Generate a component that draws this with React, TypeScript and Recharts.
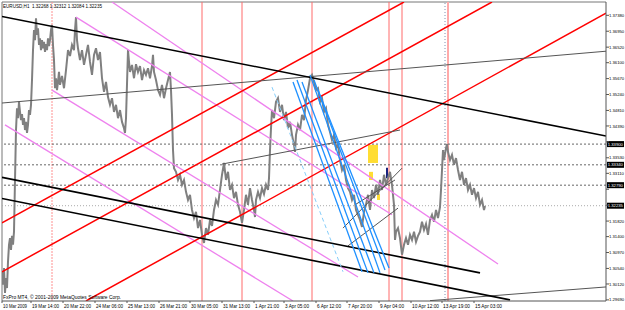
import React from 'react';
import { ComposedChart, Line, XAxis, YAxis, ReferenceLine, ReferenceArea } from 'recharts';

// H1 bar index (0 = first visible bar) and price
const priceBars: [number, number][] = [
  [0,1.3045],[1,1.3010],[2,1.3055],[3,1.2988],[4,1.3028],[5,1.3001],[6,1.3072],[7,1.3118],[8,1.3136],[9,1.3104],
  [10,1.3142],[11,1.3118],[12,1.3153],[13,1.3293],[14,1.3428],[15,1.3487],[16,1.3460],[17,1.3504],[18,1.3477],[19,1.3455],
  [20,1.3471],[21,1.3442],[22,1.3460],[23,1.3428],[24,1.3450],[25,1.3420],[26,1.3442],[27,1.3482],[28,1.3469],[29,1.3496],
  [30,1.3563],[31,1.3644],[32,1.3698],[33,1.3671],[34,1.3730],[35,1.3685],[36,1.3703],[37,1.3658],[38,1.3676],[39,1.3644],
  [40,1.3671],[41,1.3649],[42,1.3666],[43,1.3639],[44,1.3660],[45,1.3644],[46,1.3676],[47,1.3655],[48,1.3671],[49,1.3698],
  [50,1.3712],[51,1.3658],[52,1.3617],[53,1.3541],[54,1.3568],[55,1.3536],[56,1.3558],[57,1.3585],[58,1.3550],[60,1.3574],
  [62,1.3541],[64,1.3590],[66,1.3644],[68,1.3628],[70,1.3658],[72,1.3644],[73,1.3698],[74,1.3733],[75,1.3671],[76,1.3649],
  [78,1.3617],[80,1.3644],[82,1.3604],[84,1.3631],[86,1.3658],[88,1.3612],[90,1.3577],[92,1.3631],[94,1.3649],[96,1.3617],
  [98,1.3639],[100,1.3568],[102,1.3531],[104,1.3558],[106,1.3517],[108,1.3496],[110,1.3514],[112,1.3477],[114,1.3496],[116,1.3460],
  [118,1.3482],[120,1.3450],[122,1.3433],[123,1.3420],[124,1.3460],[126,1.3644],[127,1.3612],[128,1.3585],[130,1.3604],[132,1.3568],
  [134,1.3606],[136,1.3585],[138,1.3601],[140,1.3563],[142,1.3590],[144,1.3577],[146,1.3595],[148,1.3568],[150,1.3601],[151,1.3631],
  [152,1.3585],[154,1.3563],[156,1.3536],[158,1.3523],[160,1.3550],[162,1.3514],[164,1.3541],[166,1.3563],[168,1.3585],[169,1.3536],
  [170,1.3469],[171,1.3374],[172,1.3325],[174,1.3315],[176,1.3293],[178,1.3307],[180,1.3280],[182,1.3293],[184,1.3261],[186,1.3239],
  [188,1.3253],[190,1.3212],[192,1.3190],[194,1.3207],[196,1.3163],[198,1.3185],[200,1.3145],[202,1.3123],[204,1.3163],[206,1.3145],
  [208,1.3185],[210,1.3169],[212,1.3212],[214,1.3239],[216,1.3226],[218,1.3266],[220,1.3307],[222,1.3339],[224,1.3293],[226,1.3315],
  [228,1.3266],[230,1.3280],[232,1.3244],[234,1.3261],[236,1.3226],[238,1.3207],[240,1.3177],[242,1.3212],[244,1.3253],[246,1.3226],
  [248,1.3271],[250,1.3239],[252,1.3212],[253,1.3193],[254,1.3239],[256,1.3261],[258,1.3244],[260,1.3271],[262,1.3255],[264,1.3280],
  [266,1.3266],[267,1.3298],[268,1.3374],[269,1.3433],[270,1.3482],[272,1.3460],[274,1.3504],[276,1.3514],[278,1.3477],[280,1.3496],
  [282,1.3455],[284,1.3477],[286,1.3433],[288,1.3450],[290,1.3415],[292,1.3388],[293,1.3369],[294,1.3415],[296,1.3442],[298,1.3428],
  [300,1.3469],[302,1.3455],[304,1.3509],[306,1.3536],[308,1.3568],[310,1.3577],[312,1.3558],[314,1.3536],[316,1.3541],[318,1.3504],
  [320,1.3514],[322,1.3477],[324,1.3487],[326,1.3442],[328,1.3423],[330,1.3401],[332,1.3415],[334,1.3379],[336,1.3388],[338,1.3347],
  [340,1.3320],[342,1.3334],[344,1.3293],[346,1.3271],[348,1.3261],[350,1.3239],[352,1.3253],[354,1.3212],[356,1.3199],[358,1.3185],
  [360,1.3166],[362,1.3207],[364,1.3226],[366,1.3253],[368,1.3212],[370,1.3266],[372,1.3244],[374,1.3280],[376,1.3253],[378,1.3293],
  [380,1.3266],[382,1.3307],[384,1.3280],[386,1.3298],[388,1.3315],[390,1.3280],[392,1.3226],[393,1.3131],[394,1.3153],[396,1.3163],
  [398,1.3136],[400,1.3091],[402,1.3118],[404,1.3136],[406,1.3118],[408,1.3145],[410,1.3131],[412,1.3153],[414,1.3126],[416,1.3142],
  [418,1.3153],[420,1.3180],[422,1.3158],[424,1.3174],[426,1.3145],[428,1.3185],[430,1.3199],[432,1.3180],[434,1.3212],[436,1.3190],
  [438,1.3220],[439,1.3266],[440,1.3320],[441,1.3374],[442,1.3347],[444,1.3379],[445,1.3390],[446,1.3369],[448,1.3347],[450,1.3361],
  [452,1.3334],[454,1.3352],[456,1.3320],[458,1.3293],[460,1.3315],[462,1.3280],[464,1.3298],[466,1.3266],[468,1.3280],[470,1.3253],
  [472,1.3271],[474,1.3244],[476,1.3261],[478,1.3226],[480,1.3239],[482,1.3212],[483,1.3223],
];

const yTicks = [1.3738, 1.3695, 1.3652, 1.361, 1.3567, 1.3524, 1.3481, 1.3439, 1.3396, 1.3353, 1.3311, 1.3268, 1.3225, 1.3182, 1.314, 1.3097, 1.3054, 1.3012, 1.2969];
// tick labels hidden behind the level tags in the reference
const yTicksCovered = [1.3396, 1.3268, 1.3225];
const xTicks = [0, 29, 61, 93, 125, 157, 188, 220, 252, 282, 314, 345, 377, 409, 440, 472];
const xTickLabels = ['10 Mar 2009', '19 Mar 14:00', '20 Mar 22:00', '24 Mar 06:00', '25 Mar 13:00', '26 Mar 21:00', '30 Mar 05:00', '31 Mar 13:00', '1 Apr 21:00', '3 Apr 05:00', '6 Apr 12:00', '7 Apr 20:00', '9 Apr 04:00', '10 Apr 12:00', '13 Apr 19:00', '15 Apr 03:00'];

type Seg = [number, number, number, number]; // bar1, price1, bar2, price2
const blackLines: Seg[] = [
  [0, 1.3735, 604, 1.3412],
  [0, 1.3300, 478, 1.3042],
  [0, 1.3243, 508, 1.2969],
];
const grayLines: Seg[] = [
  [0, 1.3501, 604, 1.3641],
  [220, 1.3336, 398, 1.3428],
  [428, 1.2967, 604, 1.3004],
  [341, 1.3163, 400, 1.3325],
  [346, 1.3115, 396, 1.3217],
  [353, 1.3226, 393, 1.3293],
];
const redLines: Seg[] = [
  [0, 1.3177, 402, 1.3774],
  [0, 1.3045, 490, 1.3774],
  [84, 1.2966, 604, 1.3744],
];
const violetLines: Seg[] = [
  [110, 1.3774, 496, 1.3066],
  [74, 1.3733, 390, 1.3199],
  [50, 1.3536, 356, 1.3031],
  [3, 1.3442, 291, 1.2966],
];
const blueLines: Seg[] = [
  [291, 1.3558, 360, 1.3045],
  [295, 1.3563, 366, 1.3042],
  [300, 1.3558, 372, 1.3042],
  [308, 1.3577, 378, 1.3042],
  [312, 1.3563, 383, 1.3050],
  [316, 1.3536, 387, 1.3055],
];
const blueDashed: Seg[] = [[270, 1.3544, 341, 1.3045]];
const yellowBoxes: Seg[] = [
  [366, 1.3388, 376, 1.3339],
  [367, 1.3315, 371, 1.3293],
  [375, 1.3255, 378, 1.3239],
];
const navyBoxes: Seg[] = [[384, 1.3326, 386, 1.3298]];
const redVerticals = [200, 240, 310, 387, 400];
const pinkDotVerticals = [50];
const grayDotVerticals = [443];
const paleRedVerticals = [446];
const levels = [1.3390, 1.3334, 1.3279];
const levelTags = ['1.33900', '1.33340', '1.32790'];
const bidLevel = 1.32235;
const bidTag = '1.32235';
const titleText = 'EURUSD,H1  1.32268 1.32312 1.32084 1.32235';
const footerText = 'FxPro MT4, © 2001-2009 MetaQuotes Software Corp.';

const Y_MIN = 1.2966;
const Y_MAX = 1.3774;
const FONT = "Arial, 'Liberation Sans', sans-serif";

const XTick = (props: any) => {
  const { x, y, payload } = props;
  const k = xTicks.indexOf(payload.value);
  const label = xTickLabels[k] || '';
  return (
    <text x={x + 1} y={y + 4.5} fontSize={5} fontFamily={FONT} fill="#000" textAnchor="start"
      textLength={label.length >= 12 ? 27 : 24} lengthAdjust="spacingAndGlyphs">
      {label}
    </text>
  );
};

const YTick = (props: any) => {
  const { x, y, payload } = props;
  if (yTicksCovered.some((v) => Math.abs(v - payload.value) < 1e-6)) return <g />;
  return (
    <text x={x} y={y + 1.6} fontSize={4.2} fontFamily={FONT} fill="#000" textAnchor="start">
      {Number(payload.value).toFixed(5)}
    </text>
  );
};

const Tag = (props: any) => {
  const vb = props.viewBox || {};
  const x = (vb.x ?? 0) + (vb.width ?? 0) + 1;
  const y = vb.y ?? 0;
  return (
    <g>
      <rect x={x} y={y - 3} width={17} height={6} fill="#000" />
      <text x={x + 0.8} y={y + 1.6} fontSize={4.2} fontFamily={FONT} fill="#fff">{props.text}</text>
    </g>
  );
};

const seg = (s: Seg, key: string, stroke: string, width: number, dash?: string) => (
  <ReferenceLine
    key={key}
    segment={[{ x: s[0], y: s[1] }, { x: s[2], y: s[3] }]}
    stroke={stroke}
    strokeWidth={width}
    strokeDasharray={dash}
    ifOverflow="hidden"
  />
);

export default function App() {
  const data = priceBars.map(([i, p]) => ({ i, p }));
  return (
    <div style={{ position: 'absolute', left: 0, top: 0, width: 625, height: 310, background: '#fff', overflow: 'hidden' }}>
      <ComposedChart width={625} height={310} data={data} margin={{ top: 2, right: 0, bottom: 0, left: 2 }}>
        <XAxis
          dataKey="i"
          type="number"
          domain={[0, 604]}
          allowDataOverflow
          ticks={xTicks}
          interval={0}
          tick={<XTick />}
          tickSize={2}
          tickMargin={0}
          height={9}
          axisLine={{ stroke: '#555' }}
          tickLine={{ stroke: '#555' }}
        />
        <YAxis
          orientation="right"
          type="number"
          domain={[Y_MIN, Y_MAX]}
          allowDataOverflow
          ticks={yTicks}
          interval={0}
          tick={<YTick />}
          tickSize={3}
          tickMargin={0}
          width={19}
          axisLine={{ stroke: '#555' }}
          tickLine={{ stroke: '#555' }}
        />
        <ReferenceLine y={Y_MAX} stroke="#777" ifOverflow="visible" />
        <ReferenceLine x={0} stroke="#777" ifOverflow="visible" />
        {redVerticals.map((v, k) => (
          <ReferenceLine key={'rv' + k} x={v} stroke="#ff6a6a" strokeWidth={1} />
        ))}
        {pinkDotVerticals.map((v, k) => (
          <ReferenceLine key={'pv' + k} x={v} stroke="#ff9090" strokeWidth={1} strokeDasharray="2 1" />
        ))}
        {paleRedVerticals.map((v, k) => (
          <ReferenceLine key={'prv' + k} x={v} stroke="#ffaaaa" strokeWidth={2} />
        ))}
        {grayDotVerticals.map((v, k) => (
          <ReferenceLine key={'gv' + k} x={v} stroke="#8090b0" strokeWidth={1} strokeDasharray="1 2" />
        ))}
        {levels.map((v, k) => (
          <ReferenceLine key={'lv' + k} y={v} stroke="#666" strokeDasharray="2 2" label={<Tag text={levelTags[k]} />} />
        ))}
        <ReferenceLine y={bidLevel} stroke="#aaa" strokeDasharray="1 2" label={<Tag text={bidTag} />} />
        <Line dataKey="p" stroke="#808080" strokeWidth={2} dot={false} isAnimationActive={false} />
        {yellowBoxes.map((b, k) => (
          <ReferenceArea key={'yb' + k} x1={b[0]} x2={b[2]} y1={b[3]} y2={b[1]} fill="#ffdd33" fillOpacity={1} stroke="none" />
        ))}
        {navyBoxes.map((b, k) => (
          <ReferenceArea key={'nb' + k} x1={b[0]} x2={b[2]} y1={b[3]} y2={b[1]} fill="#1a237e" fillOpacity={1} stroke="none" />
        ))}
        {violetLines.map((s, k) => seg(s, 'vl' + k, '#ee82ee', 1.3))}
        {redLines.map((s, k) => seg(s, 'rl' + k, '#ff0000', 1.5))}
        {grayLines.map((s, k) => seg(s, 'gl' + k, '#555', 1))}
        {blackLines.map((s, k) => seg(s, 'bl' + k, '#000', 1.6))}
        {blueLines.map((s, k) => seg(s, 'bu' + k, '#1e90ff', 1.3))}
        {blueDashed.map((s, k) => seg(s, 'bd' + k, '#87cefa', 1, '4 3'))}
      </ComposedChart>
      <svg width={625} height={310} style={{ position: 'absolute', left: 0, top: 0, pointerEvents: 'none' }}>
        <text x={3} y={8} fontSize={5} fontFamily={FONT} fill="#000" textLength={99} lengthAdjust="spacingAndGlyphs" xmlSpace="preserve">
          {titleText}
        </text>
        <text x={3} y={299} fontSize={5} fontFamily={FONT} fill="#000" textLength={118} lengthAdjust="spacingAndGlyphs">
          {footerText}
        </text>
      </svg>
    </div>
  );
}
